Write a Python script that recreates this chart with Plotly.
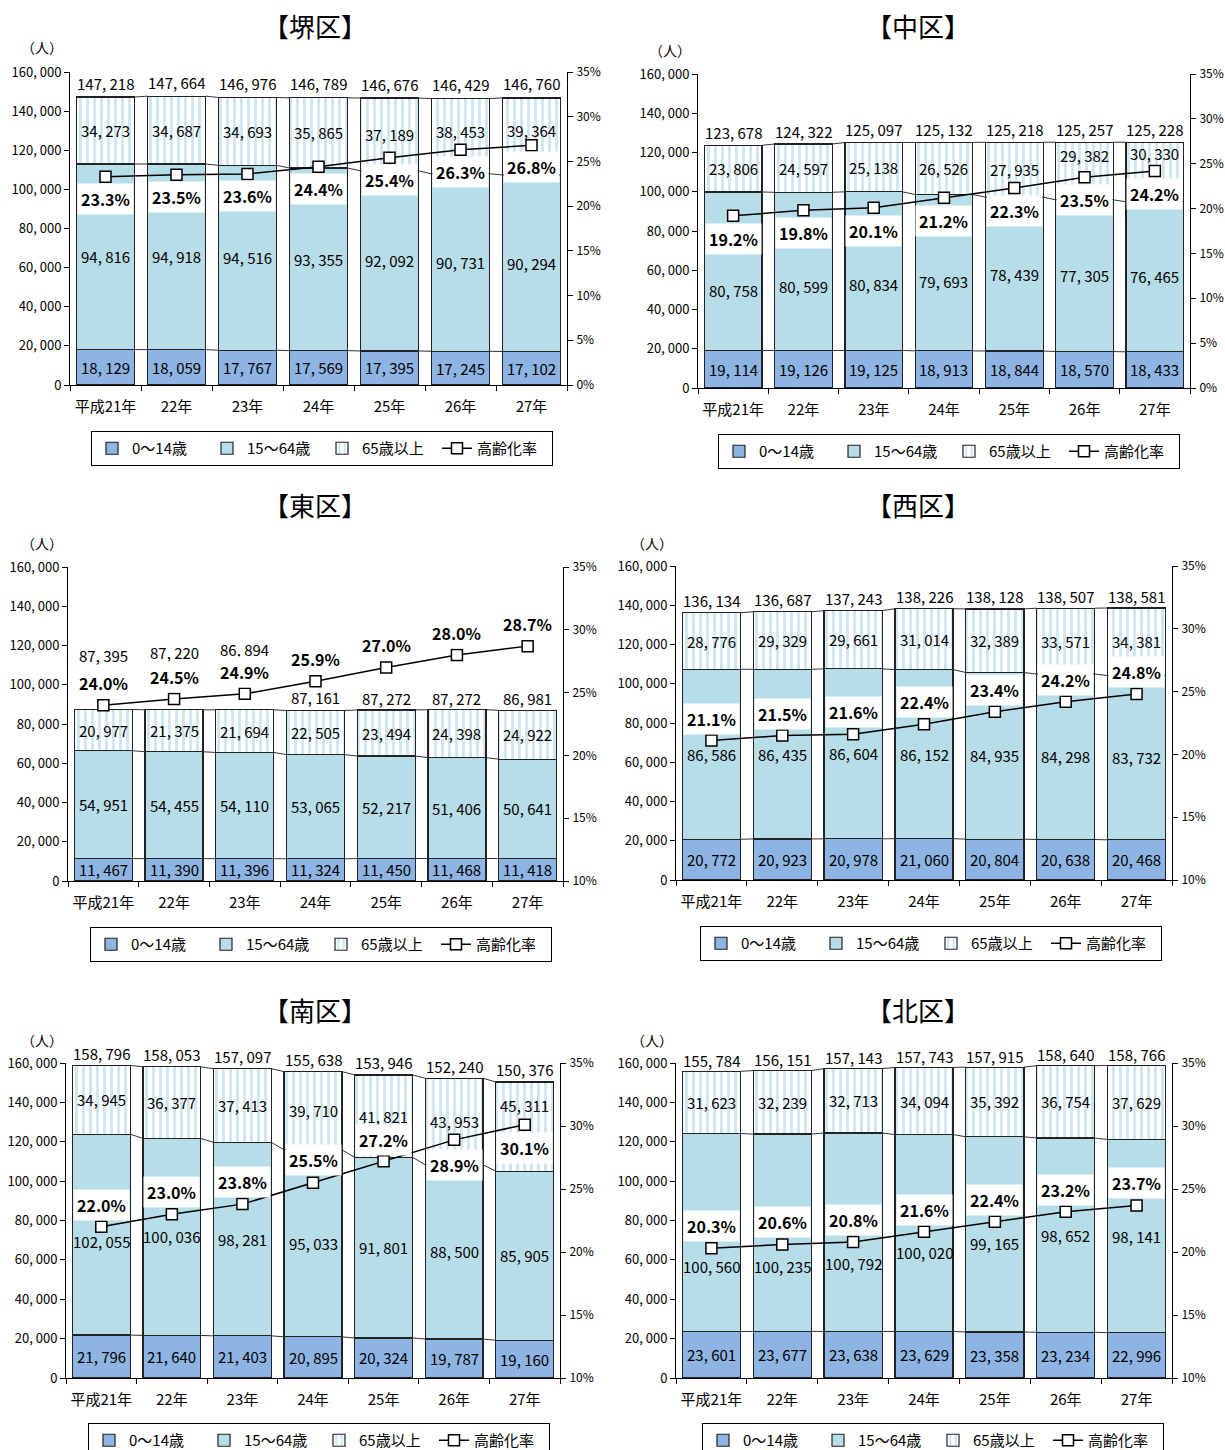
import plotly.graph_objects as go

W, H = 1225, 1450
FONT = "Noto Sans CJK JP"

years = ["平成21年", "22年", "23年", "24年", "25年", "26年", "27年"]

# ---- 堺区 ----
sakai_young = [18129, 18059, 17767, 17569, 17395, 17245, 17102]
sakai_working = [94816, 94918, 94516, 93355, 92092, 90731, 90294]
sakai_elderly = [34273, 34687, 34693, 35865, 37189, 38453, 39364]
sakai_total = [147218, 147664, 146976, 146789, 146676, 146429, 146760]
sakai_rate = [23.3, 23.5, 23.6, 24.4, 25.4, 26.3, 26.8]

# ---- 中区 ----
naka_young = [19114, 19126, 19125, 18913, 18844, 18570, 18433]
naka_working = [80758, 80599, 80834, 79693, 78439, 77305, 76465]
naka_elderly = [23806, 24597, 25138, 26526, 27935, 29382, 30330]
naka_total = [123678, 124322, 125097, 125132, 125218, 125257, 125228]
naka_rate = [19.2, 19.8, 20.1, 21.2, 22.3, 23.5, 24.2]

# ---- 東区 ----
higashi_young = [11467, 11390, 11396, 11324, 11450, 11468, 11418]
higashi_working = [54951, 54455, 54110, 53065, 52217, 51406, 50641]
higashi_elderly = [20977, 21375, 21694, 22505, 23494, 24398, 24922]
higashi_total = [87395, 87220, 86894, 87161, 87272, 87272, 86981]
higashi_rate = [24.0, 24.5, 24.9, 25.9, 27.0, 28.0, 28.7]

# ---- 西区 ----
nishi_young = [20772, 20923, 20978, 21060, 20804, 20638, 20468]
nishi_working = [86586, 86435, 86604, 86152, 84935, 84298, 83732]
nishi_elderly = [28776, 29329, 29661, 31014, 32389, 33571, 34381]
nishi_total = [136134, 136687, 137243, 138226, 138128, 138507, 138581]
nishi_rate = [21.1, 21.5, 21.6, 22.4, 23.4, 24.2, 24.8]

# ---- 南区 ----
minami_young = [21796, 21640, 21403, 20895, 20324, 19787, 19160]
minami_working = [102055, 100036, 98281, 95033, 91801, 88500, 85905]
minami_elderly = [34945, 36377, 37413, 39710, 41821, 43953, 45311]
minami_total = [158796, 158053, 157097, 155638, 153946, 152240, 150376]
minami_rate = [22.0, 23.0, 23.8, 25.5, 27.2, 28.9, 30.1]

# ---- 北区 ----
kita_young = [23601, 23677, 23638, 23629, 23358, 23234, 22996]
kita_working = [100560, 100235, 100792, 100020, 99165, 98652, 98141]
kita_elderly = [31623, 32239, 32713, 34094, 35392, 36754, 37629]
kita_total = [155784, 156151, 157143, 157743, 157915, 158640, 158766]
kita_rate = [20.3, 20.6, 20.8, 21.6, 22.4, 23.2, 23.7]

series_names = ["0～14歳", "15～64歳", "65歳以上", "高齢化率"]

districts = [
    ("【堺区】", sakai_young, sakai_working, sakai_elderly, sakai_total, sakai_rate),
    ("【中区】", naka_young, naka_working, naka_elderly, naka_total, naka_rate),
    ("【東区】", higashi_young, higashi_working, higashi_elderly, higashi_total, higashi_rate),
    ("【西区】", nishi_young, nishi_working, nishi_elderly, nishi_total, nishi_rate),
    ("【南区】", minami_young, minami_working, minami_elderly, minami_total, minami_rate),
    ("【北区】", kita_young, kita_working, kita_elderly, kita_total, kita_rate),
]

# ---- panel layout (pixels) and label offsets ----
panels = [
    dict(x0=70, x1=567, top=72, bottom=385, rate_min=0, title=(315, 25), unit=(42, 47),
         legend=(322, 431), pct_shift=[-22] * 7, work_shift=[0] * 7,
         old_shift=[0, 0, 0, 0, 0, 5, 6], total_shift=[14] * 7),
    dict(x0=698, x1=1190, top=74, bottom=388, rate_min=0, title=(918, 25), unit=(670, 50),
         legend=(949, 434), pct_shift=[-23] * 7, work_shift=[-19, -15, -13, -9, 0, 0, 0],
         old_shift=[0, 0, 0, 0, 0, 16, 18], total_shift=[13] * 7),
    dict(x0=68, x1=563, top=567, bottom=881, rate_min=10, title=(315, 505), unit=(42, 543),
         legend=(321, 927), pct_shift=[22] * 7, work_shift=[0] * 7,
         old_shift=[0] * 7, total_shift=[54, 57, 61, 12, 11, 11, 12]),
    dict(x0=676, x1=1172, top=566, bottom=880, rate_min=10, title=(918, 505), unit=(652, 543),
         legend=(931, 926), pct_shift=[22] * 7, work_shift=[0] * 7,
         old_shift=[0] * 7, total_shift=[12] * 7),
    dict(x0=66, x1=560, top=1063, bottom=1378, rate_min=10, title=(315, 1010), unit=(42, 1040),
         legend=(319, 1423), pct_shift=[22, 22, 22, 23, 21, -25, -23],
         work_shift=[-7, 0, 0, 0, 0, 0, 0], old_shift=[0, 0, 0, 0, 0, 0, 21],
         total_shift=[12] * 7),
    dict(x0=676, x1=1172, top=1063, bottom=1378, rate_min=10, title=(918, 1010), unit=(652, 1040),
         legend=(933, 1423), pct_shift=[22] * 7, work_shift=[-34, -34, -31, -19, -9, 0, 0],
         old_shift=[0] * 7, total_shift=[11] * 7),
]

C_YOUNG = "#8DB4E2"
C_WORK = "#B7DDE8"
C_STRIPE = "#9DCFE0"
C_EDGE = "#222222"
BAR_W = 0.82


def px_x(p):
    return p / W


def px_y(p):
    return 1 - p / H


def fmt(n):
    return f"{n:,}".replace(",", ", ")


fig = go.Figure()
annotations = []
layout = {}

for k, ((title, young, work, old, total, rate), pn) in enumerate(zip(districts, panels), start=1):
    xa = "x" if k == 1 else f"x{k}"
    ya = "y" if k == 1 else f"y{2 * k - 1}"
    ya2 = f"y{2 * k}"
    leg = "legend" if k == 1 else f"legend{k}"
    xs = list(range(len(years)))

    # series lines joining neighbouring bar tops
    levels = [young,
              [a + b for a, b in zip(young, work)],
              [a + b + c for a, b, c in zip(young, work, old)]]
    for lv in levels:
        lx, ly = [], []
        for i in range(len(xs) - 1):
            lx += [xs[i] + BAR_W / 2, xs[i + 1] - BAR_W / 2, None]
            ly += [lv[i], lv[i + 1], None]
        fig.add_trace(go.Scatter(x=lx, y=ly, mode="lines", xaxis=xa, yaxis=ya,
                                 line=dict(color="#333333", width=1),
                                 showlegend=False, hoverinfo="skip"))

    fig.add_trace(go.Bar(x=xs, y=young, name=series_names[0], width=BAR_W,
                         xaxis=xa, yaxis=ya, legend=leg,
                         marker=dict(color=C_YOUNG, line=dict(color=C_EDGE, width=1.2))))
    fig.add_trace(go.Bar(x=xs, y=work, name=series_names[1], width=BAR_W,
                         xaxis=xa, yaxis=ya, legend=leg,
                         marker=dict(color=C_WORK, line=dict(color=C_EDGE, width=1.2))))
    fig.add_trace(go.Bar(x=xs, y=old, name=series_names[2], width=BAR_W,
                         xaxis=xa, yaxis=ya, legend=leg,
                         marker=dict(color="white", line=dict(color=C_EDGE, width=1.2),
                                     pattern=dict(shape="|", fgcolor=C_STRIPE, bgcolor="white",
                                                  size=7, solidity=0.4))))
    fig.add_trace(go.Scatter(x=xs, y=rate, name=series_names[3], mode="lines+markers",
                             xaxis=xa, yaxis=ya2, legend=leg,
                             line=dict(color="black", width=1.5),
                             marker=dict(symbol="square", size=11, color="white",
                                         line=dict(color="black", width=1.5))))

    dom_x = [px_x(pn["x0"]), px_x(pn["x1"])]
    dom_y = [px_y(pn["bottom"]), px_y(pn["top"])]
    xkey = "xaxis" if k == 1 else f"xaxis{k}"
    ykey = "yaxis" if k == 1 else f"yaxis{2 * k - 1}"
    y2key = f"yaxis{2 * k}"

    layout[xkey] = dict(domain=dom_x, anchor=ya, range=[-0.5, len(years) - 0.5],
                        tickvals=xs, ticktext=years, ticks="", showline=True,
                        linecolor="black", linewidth=1, showgrid=False, zeroline=False,
                        tickfont=dict(size=15, color="black"), fixedrange=True,
                        ticklabelstandoff=8,
                        minor=dict(tickvals=[i - 0.5 for i in range(len(years) + 1)],
                                   ticks="outside", ticklen=5, tickcolor="black",
                                   showgrid=False))
    yt = list(range(0, 160001, 20000))
    layout[ykey] = dict(domain=dom_y, anchor=xa, range=[0, 160000], tickvals=yt,
                        ticktext=[fmt(v) for v in yt], ticks="outside", ticklen=5,
                        tickcolor="black", showline=True, linecolor="black", linewidth=1,
                        showgrid=False, zeroline=False,
                        tickfont=dict(size=13, color="black"), fixedrange=True)
    rt = list(range(pn["rate_min"], 36, 5))
    layout[y2key] = dict(overlaying=ya, side="right", anchor=xa,
                         range=[pn["rate_min"], 35], tickvals=rt,
                         ticktext=[f"{v}%" for v in rt], ticks="outside", ticklen=5,
                         tickcolor="black", showline=True, linecolor="black", linewidth=1,
                         showgrid=False, zeroline=False, ticklabelstandoff=1,
                         tickfont=dict(size=12, color="black"), fixedrange=True)

    lx, ly = pn["legend"]
    layout[leg] = dict(x=px_x(lx), xanchor="center", y=px_y(ly), yanchor="top",
                       orientation="h", bordercolor="black", borderwidth=1,
                       bgcolor="white", font=dict(size=15, color="black", family=FONT),
                       itemwidth=30, tracegroupgap=0, traceorder="normal",
                       entrywidth=70, entrywidthmode="pixels")

    # panel title and unit
    tx, ty = pn["title"]
    annotations.append(dict(text=title, x=px_x(tx), y=px_y(ty), xref="paper", yref="paper",
                            showarrow=False, font=dict(size=26, color="black", family=FONT),
                            xanchor="center", yanchor="middle"))
    ux, uy = pn["unit"]
    annotations.append(dict(text="（人）", x=px_x(ux), y=px_y(uy), xref="paper", yref="paper",
                            showarrow=False, font=dict(size=14, color="black", family=FONT),
                            xanchor="center", yanchor="middle"))

    # value labels
    for i in xs:
        base_font = dict(size=15, color="black", family=FONT)
        annotations.append(dict(text=fmt(young[i]), x=i, y=young[i] / 2, xref=xa, yref=ya,
                                showarrow=False, font=base_font))
        annotations.append(dict(text=fmt(work[i]), x=i, y=young[i] + work[i] / 2,
                                xref=xa, yref=ya, showarrow=False, font=base_font,
                                yshift=pn["work_shift"][i]))
        annotations.append(dict(text=fmt(old[i]), x=i, y=young[i] + work[i] + old[i] / 2,
                                xref=xa, yref=ya, showarrow=False, font=base_font,
                                yshift=pn["old_shift"][i]))
        annotations.append(dict(text=fmt(total[i]), x=i, y=total[i], xref=xa, yref=ya,
                                showarrow=False, font=base_font,
                                yshift=pn["total_shift"][i]))
        annotations.append(dict(text=f"<b>{rate[i]:.1f}%</b>", x=i, y=rate[i],
                                xref=xa, yref=ya2, showarrow=False,
                                font=dict(size=16, color="black", family=FONT),
                                bgcolor="white", borderpad=3,
                                yshift=pn["pct_shift"][i]))

fig.update_layout(
    width=W, height=H, margin=dict(l=0, r=0, t=0, b=0, autoexpand=False),
    paper_bgcolor="white", plot_bgcolor="rgba(0,0,0,0)",
    barmode="stack", font=dict(family=FONT, color="black"),
    annotations=annotations, hovermode=False,
    **layout,
)

fig.write_html("out.html")
